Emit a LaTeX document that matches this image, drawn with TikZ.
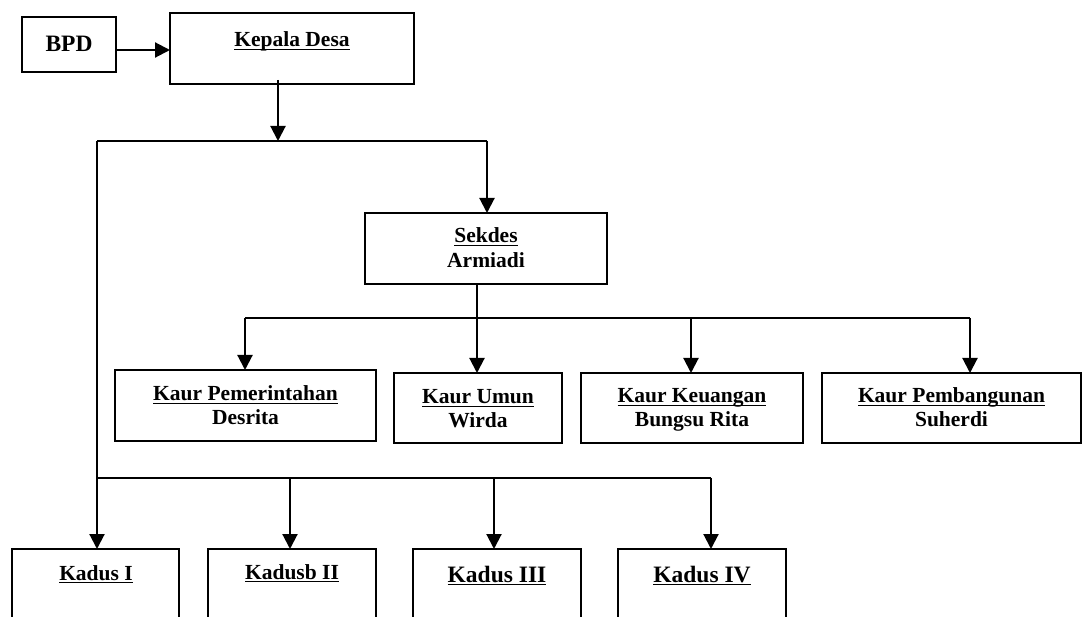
\documentclass[tikz,border=0pt]{standalone}
\usepackage{fontspec}
\setmainfont{Liberation Serif}
\usetikzlibrary{arrows.meta}
\newcommand{\myul}[1]{\setbox0\hbox{#1}\rlap{\rule[-3.4pt]{\wd0}{1.7pt}}\box0}
\tikzset{
  box/.style={draw, line width=2.1pt, rectangle, inner sep=0pt, outer sep=0pt, anchor=north west},
  lbl/.style={anchor=base, inner sep=0pt, font=\bfseries\fontsize{21.5}{25}\selectfont},
  biglbl/.style={anchor=base, inner sep=0pt, font=\bfseries\fontsize{23.5}{27}\selectfont},
  conn/.style={line width=2.1pt},
  arr/.style={line width=2.1pt, -{Triangle[length=15pt,width=15pt]}}
}
\begin{document}
\begin{tikzpicture}[x=1pt,y=-1pt]
\useasboundingbox (0,0) rectangle (1085,617);
\clip (0,0) rectangle (1085,617);
% boxes
\node[box, minimum width=94pt, minimum height=55pt] (bpd) at (22,17) {};
\node[box, minimum width=244pt, minimum height=71pt] (kades) at (170,13) {};
\node[box, minimum width=242pt, minimum height=71pt] (sekdes) at (365,213) {};
\node[box, minimum width=261pt, minimum height=71pt] (kaur1) at (115,370) {};
\node[box, minimum width=168pt, minimum height=70pt] (kaur2) at (394,373) {};
\node[box, minimum width=222pt, minimum height=70pt] (kaur3) at (581,373) {};
\node[box, minimum width=259pt, minimum height=70pt] (kaur4) at (822,373) {};
\node[box, minimum width=167pt, minimum height=100pt] (kadus1) at (12,549) {};
\node[box, minimum width=168pt, minimum height=100pt] (kadus2) at (208,549) {};
\node[box, minimum width=168pt, minimum height=100pt] (kadus3) at (413,549) {};
\node[box, minimum width=168pt, minimum height=100pt] (kadus4) at (618,549) {};
% labels
\node[biglbl] (tbpd) at (69,52) {BPD};
\node[lbl] (tkades) at (292,47) {\myul{Kepala Desa}};
\node[lbl] (tsek1) at (486,243) {\myul{Sekdes}};
\node[lbl] (tsek2) at (486,268) {Armiadi};
\node[lbl] (tk1a) at (245.5,401) {\myul{Kaur Pemerintahan}};
\node[lbl] (tk1b) at (245.5,425) {Desrita};
\node[lbl] (tk2a) at (478,404) {\myul{Kaur Umun}};
\node[lbl] (tk2b) at (478,428) {Wirda};
\node[lbl] (tk3a) at (692,403) {\myul{Kaur Keuangan}};
\node[lbl] (tk3b) at (692,427) {Bungsu Rita};
\node[lbl] (tk4a) at (951.5,403) {\myul{Kaur Pembangunan}};
\node[lbl] (tk4b) at (951.5,427) {Suherdi};
\node[lbl] (td1) at (96,580) {\myul{Kadus I}};
\node[lbl] (td2) at (292,579) {\myul{Kadusb II}};
\node[biglbl] (td3) at (497,582) {\myul{Kadus III}};
\node[biglbl] (td4) at (702,582) {\myul{Kadus IV}};
% junction coordinates
\coordinate (ybpd) at (0,50);
\coordinate (j1) at (278,141);
\coordinate (jl) at (97,141);
\coordinate (jr) at (487,141);
\coordinate (sk) at (477,318);
\coordinate (kl) at (245,318);
\coordinate (k3) at (691,318);
\coordinate (kr) at (970,318);
\coordinate (bl) at (97,478);
\coordinate (b2) at (290,478);
\coordinate (b3) at (494,478);
\coordinate (br) at (711,478);
% connectors
\draw[arr] (bpd.east |- ybpd) -- (kades.west |- ybpd);
\draw[arr] ([yshift=4pt]kades.south -| j1) -- (j1);
\draw[conn] (jl) -- (jr);
\draw[arr] (jr) -- (sekdes.north -| jr);
\draw[arr] (jl) -- (kadus1.north -| jl);
\draw[conn] (sekdes.south -| sk) -- (sk);
\draw[conn] (kl) -- (kr);
\draw[arr] (kl) -- (kaur1.north -| kl);
\draw[arr] (sk) -- (kaur2.north -| sk);
\draw[arr] (k3) -- (kaur3.north -| k3);
\draw[arr] (kr) -- (kaur4.north -| kr);
\draw[conn] (bl) -- (br);
\draw[arr] (b2) -- (kadus2.north -| b2);
\draw[arr] (b3) -- (kadus3.north -| b3);
\draw[arr] (br) -- (kadus4.north -| br);
\end{tikzpicture}
\end{document}
